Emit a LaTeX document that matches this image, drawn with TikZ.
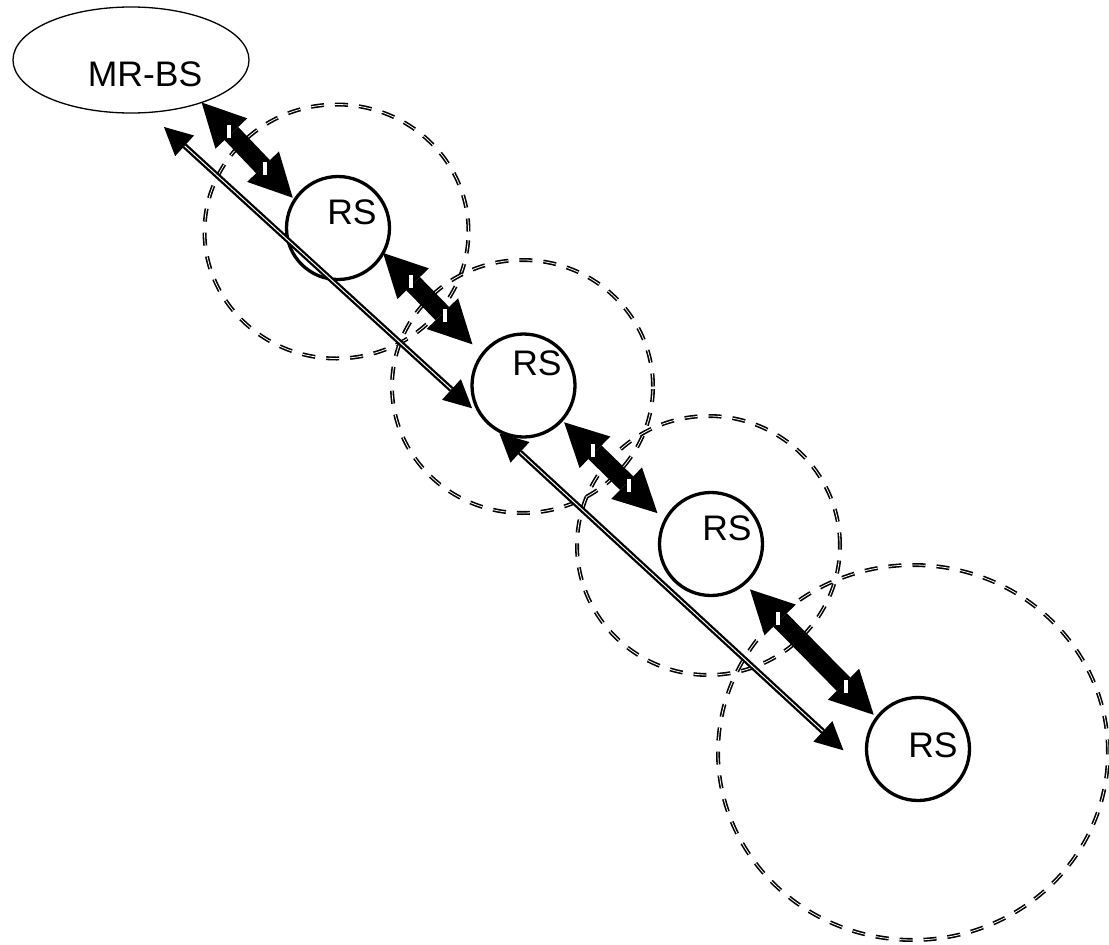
\documentclass[tikz,border=0pt]{standalone}
\usepackage{fontspec}
\setmainfont{Liberation Sans}
\usetikzlibrary{arrows.meta,shapes.geometric,decorations.markings}
\begin{document}
\begin{tikzpicture}[x=1pt,y=-1pt,
  station/.style={circle, draw, line width=3.3pt, minimum size=103pt, inner sep=0pt, outer sep=0pt},
  basestation/.style={ellipse, draw, line width=1.3pt, minimum width=236pt, minimum height=106pt, inner sep=0pt, outer sep=0pt},
  lbl/.style={inner sep=0pt, font=\fontsize{35.5}{40}\selectfont},
  coverage/.style={line width=1.6pt, double=white, double distance=0.8pt, dash pattern=on 13pt off 11pt},
  whitebar/.pic={\filldraw[white, draw=black, line width=0.6pt] (-2.5pt,-7pt) rectangle (2.5pt,7pt);},
  bigarrow/.style 2 args={line width=19pt,
    {Triangle[length=43pt,width=44pt,line width=0pt]}-{Triangle[length=43pt,width=44pt,line width=0pt]},
    postaction={decorate, decoration={markings,
      mark=at position #1pt with {\pic {whitebar};},
      mark=at position -#2pt with {\pic {whitebar};}}}},
  thinarrow/.style={line width=2.3pt, double=white, double distance=1pt,
    {Triangle[length=28pt,width=28pt,line width=0pt]}-{Triangle[length=28pt,width=28pt,line width=0pt]}},
]
\useasboundingbox (0,0) rectangle (1109,945);

% coverage areas
\draw[coverage] (336.5,231.5) ellipse [x radius=132pt, y radius=127pt];
\draw[coverage] (522.5,386.5) ellipse [x radius=130.5pt, y radius=126.5pt];
\draw[coverage] (708.5,545.5) ellipse [x radius=131.5pt, y radius=129.5pt];
\draw[coverage] (913,752.5) ellipse [x radius=195pt, y radius=187.5pt];

% stations
\node[basestation] (mrbs) at (131,60) {};
\node[station] (rs1) at (338,228) {};
\node[station] (rs2) at (523.5,385.5) {};
\node[station] (rs3) at (711,544) {};
\node[station] (rs4) at (918,749) {};

\node[lbl] (mrbstext) at (145,74) {MR-BS};
\node[lbl] (rs1text) at (352,212.5) {RS};
\node[lbl] (rs2text) at (537,363) {RS};
\node[lbl] (rs3text) at (727,528.5) {RS};
\node[lbl] (rs4text) at (933,745) {RS};

% hop-by-hop links
\draw[bigarrow={40}{43}, shorten >=3pt] (mrbs.-31.9) -- (rs1.147.7);
\draw[bigarrow={40}{54.2}, shorten >=14.2pt] (rs1.-29.6) -- (rs2.143.9);
\draw[bigarrow={43.3}{50.7}, shorten <=3.3pt, shorten >=10.7pt] (rs2.-42.7) -- (rs3.153);
\draw[bigarrow={48.3}{44.5}, shorten <=8.3pt, shorten >=4.5pt] (rs3.-50.4) -- (rs4.143.6);

% long links
\draw[thinarrow, shorten <=21.5pt, shorten >=22pt] (mrbs.-72.9) -- (rs2.227);
\draw[thinarrow, shorten <=15pt, shorten >=53.6pt] (rs2.227) -- (rs4.227);
\end{tikzpicture}
\end{document}
